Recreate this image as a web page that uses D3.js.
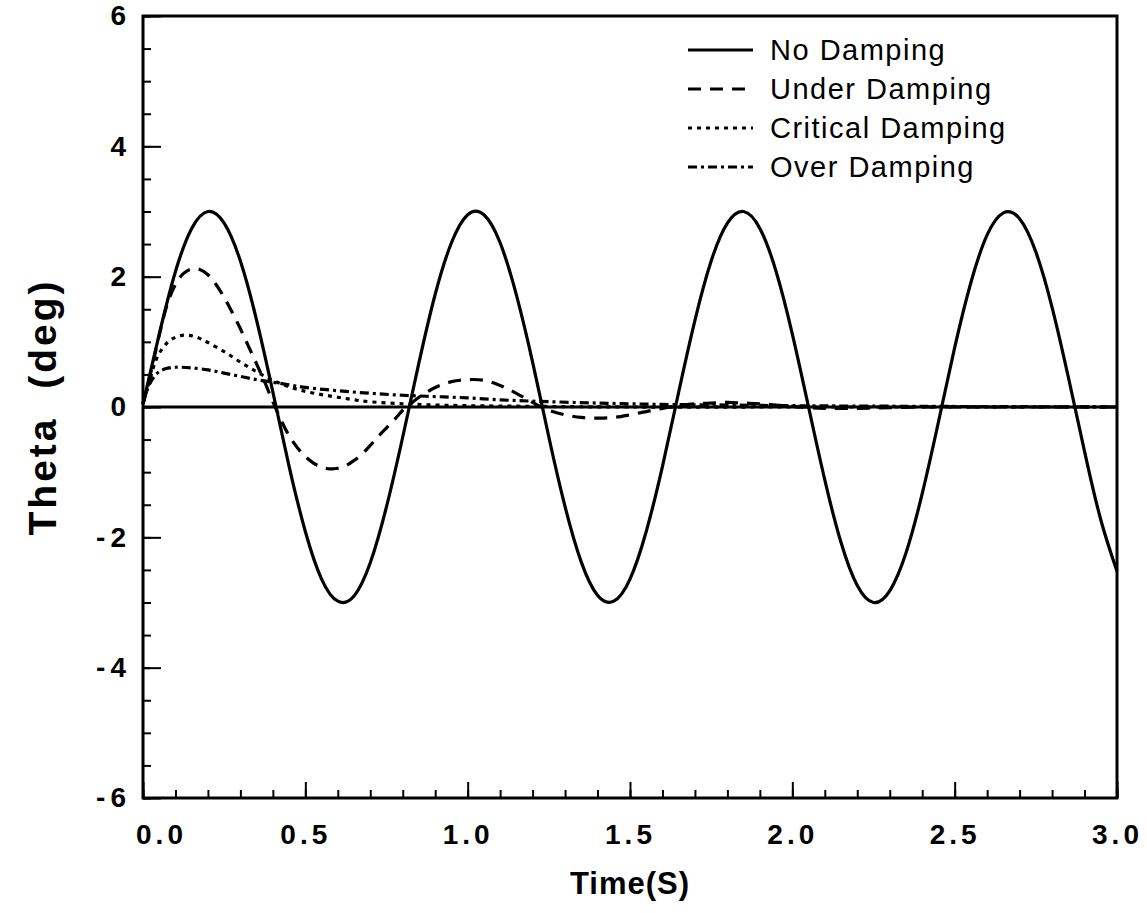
<!DOCTYPE html>
<html>
<head>
<meta charset="utf-8">
<script src="https://cdn.jsdelivr.net/npm/d3@7"></script>
<style>
  body { margin: 0; background: #fff; }
  svg text { font-family: "Liberation Sans", Arial, sans-serif; fill: #000; }
</style>
</head>
<body>
<div id="chart"></div>
<script>
// values (time in s, theta in deg)
const tNo = [0,0.05,0.1,0.15,0.2,0.25,0.3,0.35,0.4,0.45,0.5,0.55,0.6,0.65,0.7,0.75,0.8,0.85,0.9,0.95,
  1.0,1.05,1.1,1.15,1.2,1.25,1.3,1.35,1.4,1.45,1.5,1.55,1.6,1.65,1.7,1.75,1.8,1.85,1.9,1.95,
  2.0,2.05,2.1,2.15,2.2,2.25,2.3,2.35,2.4,2.45,2.5,2.55,2.6,2.65,2.7,2.75,2.8,2.85,2.9,2.95,3.0];
const thetaNo = [0.05,1.12,2.08,2.74,3.0,2.82,2.24,1.33,0.23,-0.91,-1.91,-2.64,-2.98,-2.9,-2.39,-1.53,-0.46,0.68,1.73,2.52,
  2.95,2.95,2.52,1.72,0.69,-0.46,-1.53,-2.38,-2.89,-2.98,-2.64,-1.91,-0.91,0.23,1.33,2.24,2.82,3.0,2.74,2.08,
  1.12,0,-1.12,-2.08,-2.74,-3.0,-2.82,-2.24,-1.33,-0.23,0.91,1.91,2.64,2.98,2.89,2.38,1.53,0.46,-0.68,-1.73,-2.52];

const tUnder = [0,0.025,0.05,0.075,0.1,0.125,0.15,0.175,0.2,0.225,0.25,0.275,0.3,0.325,0.35,0.375,0.4,0.425,0.45,0.475,
  0.5,0.525,0.55,0.575,0.6,0.625,0.65,0.675,0.7,0.725,0.75,0.775,0.8,0.825,0.85,0.9,0.95,1.0,1.05,1.1,
  1.15,1.2,1.25,1.3,1.35,1.4,1.45,1.5,1.55,1.6,1.65,1.7,1.75,1.8,1.85,1.9,1.95,2.0,2.05,2.1,
  2.2,2.3,2.4,2.6,2.8,3.0];
const thetaUnder = [0.05,0.55,1.1,1.58,1.88,2.05,2.12,2.11,2.03,1.88,1.68,1.45,1.2,0.93,0.66,0.38,0.08,-0.2,-0.44,-0.62,
  -0.76,-0.86,-0.92,-0.95,-0.94,-0.9,-0.82,-0.72,-0.59,-0.45,-0.32,-0.19,-0.05,0.05,0.15,0.3,0.39,0.42,0.41,0.33,
  0.21,0.07,-0.05,-0.12,-0.16,-0.17,-0.16,-0.12,-0.07,-0.02,0.02,0.05,0.06,0.07,0.06,0.05,0.03,0.01,-0.01,-0.02,
  -0.02,-0.01,0,0,0,0];

const tCritical = [0,0.02,0.04,0.06,0.08,0.1,0.12,0.14,0.16,0.18,0.2,0.25,0.3,0.35,0.4,0.45,0.5,0.55,0.6,0.65,
  0.7,0.8,0.9,1.0,1.2,1.5,2.0,2.5,3.0];
const thetaCritical = [0.05,0.4,0.72,0.9,1.01,1.07,1.1,1.1,1.08,1.04,0.99,0.85,0.69,0.54,0.41,0.31,0.24,0.19,0.15,0.11,
  0.08,0.05,0.03,0.02,0.01,0,0,0,0];

const tOver = [0,0.02,0.04,0.06,0.08,0.1,0.12,0.15,0.2,0.25,0.3,0.35,0.4,0.45,0.5,0.6,0.7,0.8,0.9,1.0,
  1.1,1.2,1.4,1.6,1.8,2.0,2.4,3.0];
const thetaOver = [0.05,0.35,0.5,0.57,0.6,0.61,0.61,0.6,0.57,0.52,0.47,0.42,0.38,0.34,0.3,0.25,0.21,0.18,0.16,0.14,
  0.11,0.09,0.06,0.04,0.03,0.02,0.01,0];

const seriesNames = ["No Damping", "Under Damping", "Critical Damping", "Over Damping"];
const xMajor = [0, 0.5, 1.0, 1.5, 2.0, 2.5, 3.0];
const yMajor = [-6, -4, -2, 0, 2, 4, 6];

const width = 1147, height = 913;
const margin = { left: 143, right: 30, top: 16, bottom: 115 };

const svg = d3.select("#chart").append("svg")
  .attr("width", width)
  .attr("height", height);

const x = d3.scaleLinear().domain([0, 3]).range([margin.left, width - margin.right]);
const y = d3.scaleLinear().domain([-6, 6]).range([height - margin.bottom, margin.top]);

const dashes = ["none", "13,9", "4,5", "9,4,3,4"];
const curves = [d3.curveNatural, d3.curveCatmullRom, d3.curveCatmullRom, d3.curveCatmullRom];
const series = [
  [tNo, thetaNo], [tUnder, thetaUnder], [tCritical, thetaCritical], [tOver, thetaOver]
].map(([ts, vs], i) => ({ name: seriesNames[i], dash: dashes[i], curve: curves[i], pts: ts.map((t, j) => [t, vs[j]]) }));

// minor ticks (inward)
svg.append("g")
  .attr("transform", `translate(0,${y(-6)})`)
  .call(d3.axisBottom(x).tickValues(d3.range(0, 3.001, 0.1)).tickSize(-8).tickFormat(""))
  .call(g => g.select(".domain").remove());
svg.append("g")
  .attr("transform", `translate(${x(0)},0)`)
  .call(d3.axisLeft(y).tickValues(d3.range(-6, 6.001, 0.5)).tickSize(-8).tickFormat(""))
  .call(g => g.select(".domain").remove());

// major ticks + labels
const xAxis = svg.append("g")
  .attr("transform", `translate(0,${y(-6)})`)
  .call(d3.axisBottom(x).tickValues(xMajor).tickSize(-16).tickPadding(26).tickFormat(d3.format(".1f")))
  .call(g => g.select(".domain").remove());
xAxis.selectAll("text")
  .attr("font-size", 28).attr("font-weight", "bold").attr("letter-spacing", 4)
  .attr("font-family", "Liberation Sans, Arial, sans-serif")
  .attr("dx", d => d === 0 ? 18 : 0);

const yAxis = svg.append("g")
  .attr("transform", `translate(${x(0)},0)`)
  .call(d3.axisLeft(y).tickValues(yMajor).tickSize(-18).tickPadding(12).tickFormat(d => d < 0 ? "-" + Math.abs(d) : d))
  .call(g => g.select(".domain").remove());
yAxis.selectAll("text")
  .attr("font-size", 28).attr("font-weight", "bold").attr("letter-spacing", 5)
  .attr("font-family", "Liberation Sans, Arial, sans-serif");
svg.selectAll(".tick line").attr("stroke", "#000").attr("stroke-width", 2);

// frame
svg.append("rect")
  .attr("x", x(0)).attr("y", y(6))
  .attr("width", x(3) - x(0)).attr("height", y(-6) - y(6))
  .attr("fill", "none").attr("stroke", "#000").attr("stroke-width", 3);

// zero line
svg.append("line")
  .attr("x1", x(0)).attr("x2", x(3)).attr("y1", y(0)).attr("y2", y(0))
  .attr("stroke", "#000").attr("stroke-width", 3.2);

svg.selectAll("path.series")
  .data(series)
  .enter()
  .append("path")
  .attr("class", "series")
  .attr("d", d => d3.line().x(p => x(p[0])).y(p => y(p[1])).curve(d.curve)(d.pts))
  .attr("fill", "none")
  .attr("stroke", "#000")
  .attr("stroke-width", 3.2)
  .attr("stroke-dasharray", d => d.dash);

// legend
const legend = svg.append("g");
series.forEach((s, i) => {
  const ly = 50 + i * 39;
  legend.append("line")
    .attr("x1", 688).attr("x2", 753).attr("y1", ly).attr("y2", ly)
    .attr("stroke", "#000").attr("stroke-width", 2.8)
    .attr("stroke-dasharray", s.dash);
  legend.append("text")
    .attr("x", 770).attr("y", ly).attr("dy", "0.35em")
    .attr("font-size", 29).attr("letter-spacing", 1.5)
    .text(s.name);
});

// axis titles
svg.append("text")
  .attr("x", (x(0) + x(3)) / 2).attr("y", 894)
  .attr("text-anchor", "middle")
  .attr("font-size", 31).attr("font-weight", "bold").attr("letter-spacing", 1)
  .text("Time(S)");

svg.append("text")
  .attr("transform", `translate(56,${y(0)}) rotate(-90)`)
  .attr("text-anchor", "middle")
  .attr("font-size", 39).attr("font-weight", "bold").attr("letter-spacing", 3)
  .attr("xml:space", "preserve")
  .text("Theta\u00a0\u00a0(deg)");
</script>
</body>
</html>
